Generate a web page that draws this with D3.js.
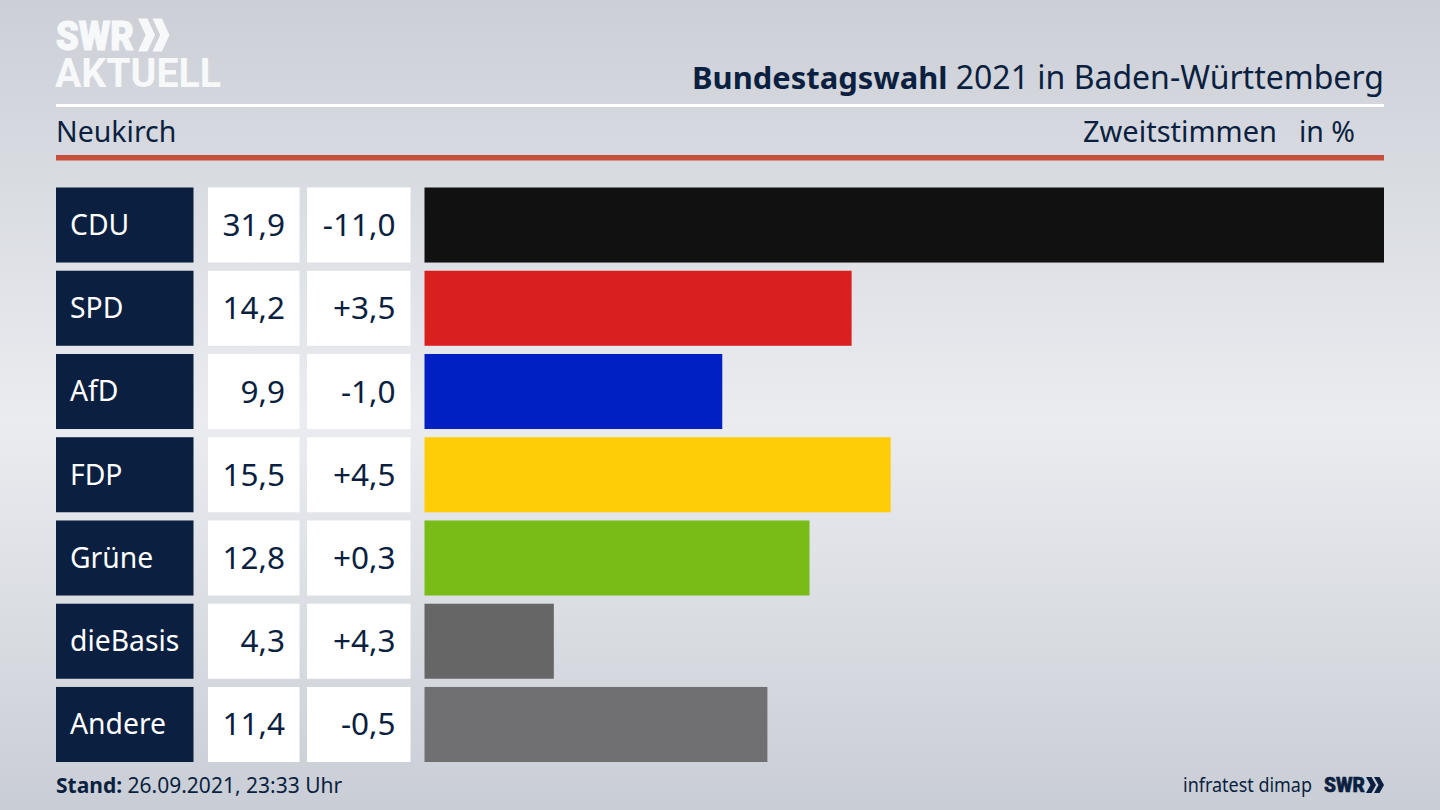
<!DOCTYPE html>
<html>
<head>
<meta charset="utf-8">
<script src="https://cdn.jsdelivr.net/npm/d3@7"></script>
<style>
html, body { margin: 0; padding: 0; overflow: hidden; background: #dfe1e6; }
text { font-family: "Noto Sans", "Open Sans", sans-serif; }
</style>
</head>
<body>
<svg id="chart" width="1440" height="810"></svg>
<script>
var parties = ["CDU", "SPD", "AfD", "FDP", "Grüne", "dieBasis", "Andere"];
var shares = [31.9, 14.2, 9.9, 15.5, 12.8, 4.3, 11.4];
var changes = ["-11,0", "+3,5", "-1,0", "+4,5", "+0,3", "+4,3", "-0,5"];
var barColors = ["#111111", "#d9201e", "#0020c4", "#ffcc08", "#79bc18", "#666666", "#707072"];

var navy = "#0b1f40";
var svg = d3.select("#chart");

//background: light band in the middle, darker to the top and the bottom
var defs = svg.append("defs");
var bg = defs.append("linearGradient").attr("id", "bg")
	.attr("x1", 0).attr("x2", 0).attr("y1", 0).attr("y2", 1);
bg.append("stop").attr("offset", "0%").attr("stop-color", "#cccfd6");
bg.append("stop").attr("offset", "18%").attr("stop-color", "#d6d9df");
bg.append("stop").attr("offset", "52%").attr("stop-color", "#eaecf0");
bg.append("stop").attr("offset", "82%").attr("stop-color", "#d6d9df");
bg.append("stop").attr("offset", "100%").attr("stop-color", "#c9cdd5");
svg.append("rect").attr("width", 1440).attr("height", 810).attr("fill", "url(#bg)");

var y = d3.scaleBand().domain(parties).range([187.5, 762]).paddingInner(0.0986);
var x = d3.scaleLinear().domain([0, 31.9]).range([424.5, 1384]);
var fmt = function(v) { return d3.format(".1f")(v).replace(".", ","); };

//logo top left
function chevrons(g, cx, cy, h, w, gap, color) {
	[0, 1].forEach(function(i) {
		var x0 = cx + i * gap;
		g.append("path")
			.attr("d", "M" + x0 + "," + (cy - h / 2) + "L" + (x0 + w * 0.55) + "," + (cy - h / 2)
				+ "L" + (x0 + w) + "," + cy + "L" + (x0 + w * 0.55) + "," + (cy + h / 2)
				+ "L" + x0 + "," + (cy + h / 2) + "L" + (x0 + w * 0.45) + "," + cy + "Z")
			.attr("fill", color);
	});
}
var logo = svg.append("g");
logo.append("text").attr("x", 56).attr("y", 50).text("SWR")
	.attr("font-size", 41).attr("font-weight", 900).attr("fill", "#f7f8f9")
	.attr("stroke", "#f7f8f9").attr("stroke-width", 1.2)
	.attr("textLength", 78).attr("lengthAdjust", "spacingAndGlyphs")
	.style("font-family", "Roboto");
chevrons(logo, 138, 35, 33, 17, 14.5, "#f7f8f9");
logo.append("text").attr("x", 55).attr("y", 87).text("AKTUELL")
	.attr("font-size", 41).attr("font-weight", 700).attr("fill", "#f7f8f9")
	.attr("textLength", 166).attr("lengthAdjust", "spacingAndGlyphs")
	.style("font-family", "Roboto");

//header
var title = svg.append("text").attr("x", 1384).attr("y", 89).attr("text-anchor", "end")
	.attr("font-size", 32).attr("fill", navy);
title.append("tspan").attr("font-weight", 700).attr("font-size", 30.9).text("Bundestagswahl");
title.append("tspan").text(" 2021 in Baden-Württemberg");

svg.append("rect").attr("x", 56).attr("y", 104).attr("width", 1328).attr("height", 3).attr("fill", "#ffffff");
svg.append("text").attr("x", 56).attr("y", 142).attr("font-size", 28.5).attr("fill", navy).text("Neukirch");
svg.append("text").attr("x", 1277).attr("y", 142).attr("text-anchor", "end").attr("font-size", 29).attr("fill", navy).text("Zweitstimmen");
svg.append("text").attr("x", 1355).attr("y", 142).attr("text-anchor", "end").attr("font-size", 28.5).attr("fill", navy).text("in %");
svg.append("rect").attr("x", 56).attr("y", 155).attr("width", 1328).attr("height", 5.5).attr("fill", "#c94f3d");

//rows
var rows = svg.selectAll("g.row").data(parties).enter().append("g")
	.attr("class", "row")
	.attr("transform", function(d) { return "translate(0," + y(d) + ")"; });
var mid = y.bandwidth() / 2;

rows.append("rect").attr("x", 56).attr("width", 137.5).attr("height", y.bandwidth()).attr("fill", navy);
rows.append("text").attr("x", 70).attr("y", mid).attr("dy", "0.35em")
	.attr("font-size", 28.3).attr("fill", "#ffffff")
	.text(function(d) { return d; });

rows.append("rect").attr("x", 208).attr("width", 91.5).attr("height", y.bandwidth()).attr("fill", "#ffffff");
rows.append("text").attr("x", 285).attr("y", mid).attr("dy", "0.35em").attr("text-anchor", "end")
	.attr("font-size", 31.5).attr("fill", navy)
	.text(function(d, i) { return fmt(shares[i]); });

rows.append("rect").attr("x", 307).attr("width", 103.5).attr("height", y.bandwidth()).attr("fill", "#ffffff");
rows.append("text").attr("x", 395.5).attr("y", mid).attr("dy", "0.35em").attr("text-anchor", "end")
	.attr("font-size", 31.5).attr("fill", navy)
	.text(function(d, i) { return changes[i]; });

rows.append("rect").attr("x", x(0)).attr("height", y.bandwidth())
	.attr("width", function(d, i) { return x(shares[i]) - x(0); })
	.attr("fill", function(d, i) { return barColors[i]; });

//footer
var stand = svg.append("text").attr("x", 56).attr("y", 793).attr("font-size", 21).attr("fill", navy);
stand.append("tspan").attr("font-weight", 700).text("Stand:");
stand.append("tspan").text(" 26.09.2021, 23:33 Uhr");

svg.append("text").attr("x", 1183).attr("y", 792)
	.attr("font-size", 20).attr("fill", navy)
	.attr("textLength", 129).attr("lengthAdjust", "spacingAndGlyphs")
	.text("infratest dimap");
svg.append("text").attr("x", 1324).attr("y", 792).text("SWR")
	.attr("font-size", 21).attr("font-weight", 900).attr("fill", navy)
	.attr("stroke", navy).attr("stroke-width", 0.6)
	.attr("textLength", 41).attr("lengthAdjust", "spacingAndGlyphs")
	.style("font-family", "Roboto");
chevrons(svg.append("g"), 1366, 785, 16, 10, 8, navy);
</script>
</body>
</html>
